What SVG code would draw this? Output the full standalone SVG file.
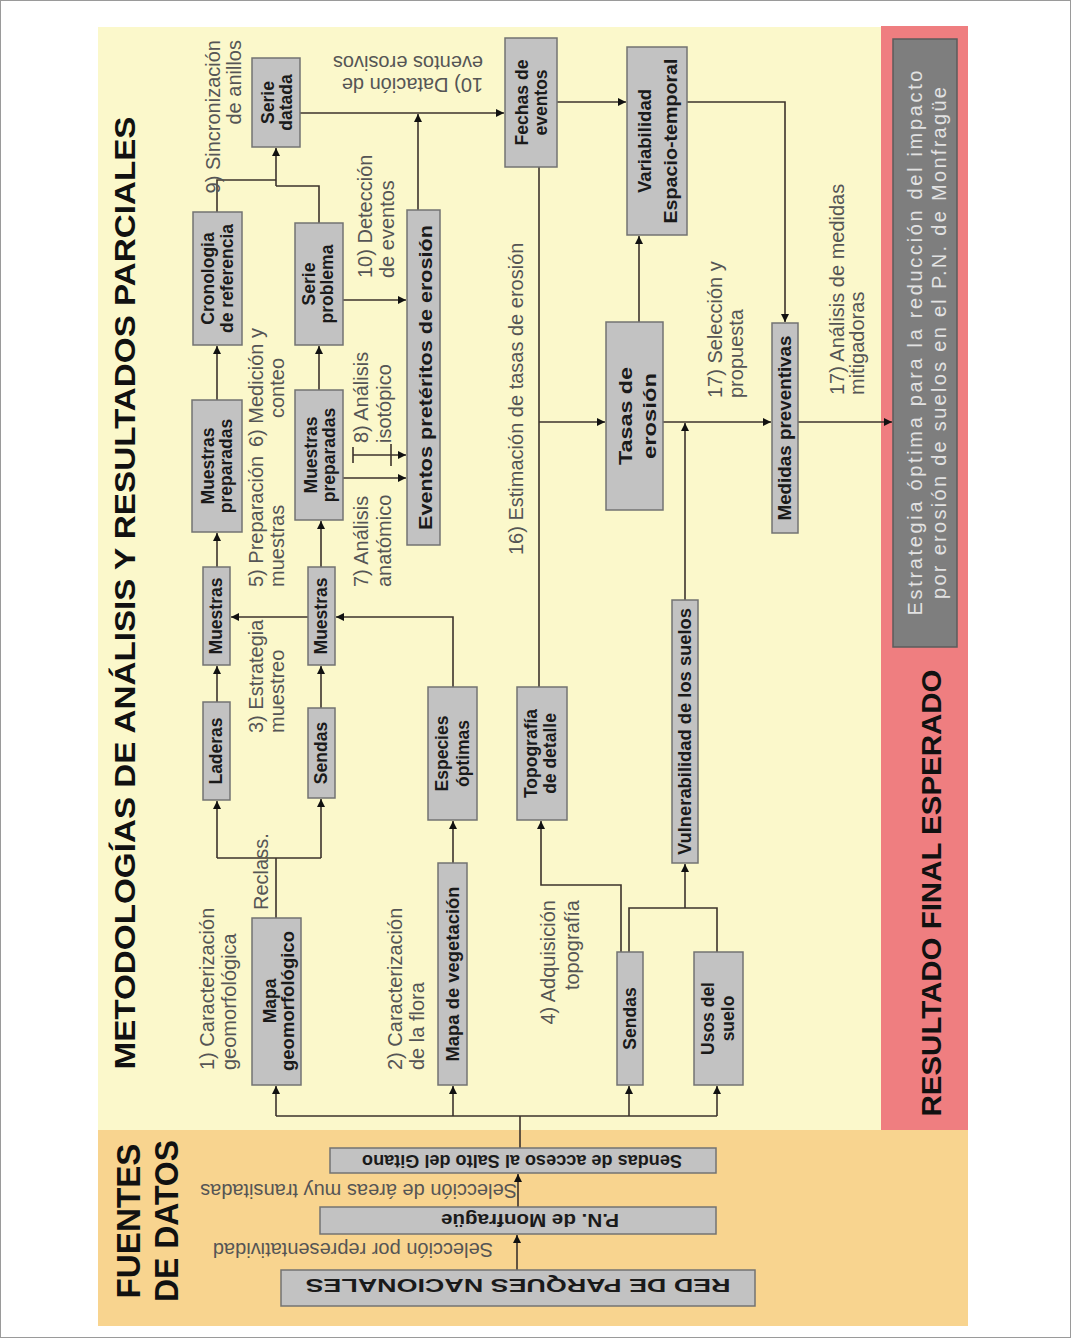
<svg xmlns="http://www.w3.org/2000/svg" width="1071" height="1338" viewBox="0 0 1071 1338">
<defs>
<marker id="ah" viewBox="0 0 10 10" refX="10" refY="5" markerWidth="9" markerHeight="8" orient="auto" markerUnits="userSpaceOnUse"><path d="M0,0 L10,5 L0,10 z" fill="#111"/></marker>
<style>
.bx{fill:#c2c2c2;stroke:#737373;stroke-width:1.5}
.bt{font-family:"Liberation Sans",Arial,sans-serif;font-weight:bold;font-size:17.5px;fill:#1a1a1a;text-anchor:middle}
.lb{font-family:"Liberation Sans",Arial,sans-serif;font-size:20px;fill:#555}
.le{font-family:"Liberation Sans",Arial,sans-serif;font-size:20px;fill:#555;text-anchor:end}
.hd{font-family:"Liberation Sans",Arial,sans-serif;font-weight:bold;fill:#111;text-anchor:middle}
.cn{fill:none;stroke:#3d332c;stroke-width:1.6}
.ar{fill:none;stroke:#3d332c;stroke-width:1.6;marker-end:url(#ah)}
</style>
</defs>
<rect x="0.5" y="0.5" width="1070" height="1337" fill="#ffffff" stroke="#9a9a9a" stroke-width="1"/>
<g id="panels">
<rect x="98" y="27" width="783" height="1103" fill="#FBF8CB"/>
<rect x="881" y="26" width="87" height="1104" fill="#EF7E80"/>
<rect x="98" y="1130" width="870" height="196" fill="#F8D48F"/>
</g>
<g id="titles">
<text class="hd" font-size="30" transform="translate(0,593) rotate(-90)" x="0" y="135" textLength="953" lengthAdjust="spacingAndGlyphs">METODOLOGÍAS DE ANÁLISIS Y RESULTADOS PARCIALES</text>
<text class="hd" font-size="28" transform="translate(0,893) rotate(-90)" x="0" y="941" textLength="447" lengthAdjust="spacingAndGlyphs">RESULTADO FINAL ESPERADO</text>
<text class="hd" font-size="34" transform="translate(0,1221) rotate(-90)" x="0" y="140" textLength="155" lengthAdjust="spacingAndGlyphs">FUENTES</text>
<text class="hd" font-size="34" transform="translate(0,1221) rotate(-90)" x="0" y="178" textLength="162" lengthAdjust="spacingAndGlyphs">DE DATOS</text>
</g>
<g id="connectors">
<path class="ar" d="M517,1270 V1235"/>
<path class="ar" d="M518,1207 V1174"/>
<path class="cn" d="M520,1148 V1116 M276,1116 H717"/>
<path class="ar" d="M276,1116 V1086"/>
<path class="ar" d="M453,1116 V1086"/>
<path class="ar" d="M629,1116 V1086"/>
<path class="ar" d="M717,1116 V1086"/>
<path class="cn" d="M276,918 V858 M217,858 H321"/>
<path class="ar" d="M217,858 V801"/>
<path class="ar" d="M321,858 V799"/>
<path class="ar" d="M217,702 V666"/>
<path class="ar" d="M217,567 V533"/>
<path class="ar" d="M217,400 V346"/>
<path class="ar" d="M321,708 V666"/>
<path class="ar" d="M321,567 V521"/>
<path class="ar" d="M319,390 V346"/>
<path class="cn" d="M217,212 V180 H276 M319,223 V186 H276"/>
<path class="ar" d="M276,186 V148"/>
<path class="ar" d="M343,300 H406"/>
<path class="ar" d="M353,455 H406"/>
<path class="cn" d="M353,447 V463 M391,444 V466"/>
<path class="ar" d="M343,478 H406"/>
<path class="ar" d="M300,113 H504"/>
<path class="ar" d="M418,210 V114"/>
<path class="ar" d="M557,102 H626"/>
<path class="ar" d="M687,102 H785 V322"/>
<path class="cn" d="M539,167 V687"/>
<path class="ar" d="M539,422 H605"/>
<path class="ar" d="M639,322 V236"/>
<path class="ar" d="M663,422 H771"/>
<path class="ar" d="M685,600 V423"/>
<path class="ar" d="M798,422 H892"/>
<path class="ar" d="M453,863 V821"/>
<path class="ar" d="M453,687 V617 H336"/>
<path class="ar" d="M308,617 H231"/>
<path class="ar" d="M621,952 V885 H541 V821"/>
<path class="cn" d="M629,952 V908 H717 V952"/>
<path class="ar" d="M685,908 V864"/>
</g>
<g id="labels">
<text class="lb" transform="translate(0,1070) rotate(-90)"><tspan x="0" y="214">1) Caracterización</tspan><tspan x="0" y="236">geomorfológica</tspan></text>
<text class="lb" transform="translate(0,910) rotate(-90)" x="0" y="268">Reclass.</text>
<text class="lb" transform="translate(0,1070) rotate(-90)"><tspan x="0" y="402">2) Caracterización</tspan><tspan x="0" y="424">de la flora</tspan></text>
<text class="lb" transform="translate(0,733) rotate(-90)"><tspan x="0" y="263">3) Estrategia</tspan><tspan x="0" y="284">muestreo</tspan></text>
<text class="lb" transform="translate(0,587) rotate(-90)"><tspan x="0" y="263">5) Preparación</tspan><tspan x="0" y="284">muestras</tspan></text>
<text class="lb" transform="translate(0,447) rotate(-90)" x="0" y="263">6) Medición y</text>
<text class="lb" transform="translate(0,418) rotate(-90)" x="0" y="284">conteo</text>
<text class="lb" transform="translate(0,587) rotate(-90)"><tspan x="0" y="368">7) Análisis</tspan><tspan x="0" y="391">anatómico</tspan></text>
<text class="lb" transform="translate(0,443) rotate(-90)"><tspan x="0" y="368">8) Análisis</tspan><tspan x="0" y="391">isotópico</tspan></text>
<text class="le" transform="translate(0,40) rotate(-90)"><tspan x="0" y="220">9) Sincronización</tspan><tspan x="0" y="241">de anillos</tspan></text>
<text class="lb" transform="translate(0,278) rotate(-90)"><tspan x="0" y="372">10) Detección</tspan><tspan x="0" y="394">de eventos</tspan></text>
<text class="lb" transform="translate(483,78) rotate(180)" x="0" y="0">10) Datación de</text>
<text class="lb" transform="translate(483,56) rotate(180)" x="0" y="0">eventos erosivos</text>
<text class="le" transform="translate(0,900) rotate(-90)"><tspan x="0" y="555">4) Adquisición</tspan><tspan x="0" y="579">topografía</tspan></text>
<text class="lb" transform="translate(0,555) rotate(-90)" x="0" y="523">16) Estimación de tasas de erosión</text>
<text class="lb" transform="translate(0,398) rotate(-90)"><tspan x="0" y="722">17) Selección y</tspan><tspan x="0" y="743">propuesta</tspan></text>
<text class="lb" transform="translate(0,395) rotate(-90)"><tspan x="0" y="844">17) Análisis de medidas</tspan><tspan x="0" y="864">mitigadoras</tspan></text>
<text class="lb" transform="translate(493,1243) rotate(180)" x="0" y="0">Selección por representatividad</text>
<text class="lb" transform="translate(517,1184) rotate(180)" x="0" y="0">Selección de áreas muy transitadas</text>
</g>
<g id="n_red"><rect class="bx" x="281" y="1270" width="474" height="36"/><text class="bt" font-size="26" transform="translate(518,1279) rotate(180)" x="0" y="0" textLength="425" lengthAdjust="spacingAndGlyphs">RED DE PARQUES NACIONALES</text></g>
<g id="n_pn"><rect class="bx" x="320" y="1207" width="396" height="27"/><text class="bt" font-size="16" transform="translate(530,1214) rotate(180)" x="0" y="0" textLength="178" lengthAdjust="spacingAndGlyphs">P.N. de Monfragüe</text></g>
<g id="n_sendas_acceso"><rect class="bx" x="330" y="1148" width="386" height="25"/><text class="bt" font-size="16" transform="translate(522,1155) rotate(180)" x="0" y="0" textLength="320" lengthAdjust="spacingAndGlyphs">Sendas de acceso al Salto del Gitano</text></g>
<g id="n_mapa_geo"><rect class="bx" x="252" y="918" width="49" height="167"/><text class="bt" transform="translate(0,1001) rotate(-90)"><tspan x="0" y="276">Mapa</tspan><tspan x="0" y="294" textLength="140" lengthAdjust="spacingAndGlyphs">geomorfológico</tspan></text></g>
<g id="n_mapa_veg"><rect class="bx" x="438" y="863" width="29" height="222"/><text class="bt" transform="translate(0,974) rotate(-90)" x="0" y="459" textLength="175" lengthAdjust="spacingAndGlyphs">Mapa de vegetación</text></g>
<g id="n_sendas_low"><rect class="bx" x="617" y="952" width="26" height="133"/><text class="bt" transform="translate(0,1018.5) rotate(-90)" x="0" y="636">Sendas</text></g>
<g id="n_usos"><rect class="bx" x="694" y="952" width="49" height="133"/><text class="bt" transform="translate(0,1018.5) rotate(-90)"><tspan x="0" y="714">Usos del</tspan><tspan x="0" y="734">suelo</tspan></text></g>
<g id="n_laderas"><rect class="bx" x="203" y="702" width="27" height="98"/><text class="bt" transform="translate(0,751) rotate(-90)" x="0" y="222">Laderas</text></g>
<g id="n_muestras1"><rect class="bx" x="203" y="567" width="27" height="98"/><text class="bt" transform="translate(0,616) rotate(-90)" x="0" y="222">Muestras</text></g>
<g id="n_mprep1"><rect class="bx" x="192" y="400" width="50" height="132"/><text class="bt" transform="translate(0,466) rotate(-90)"><tspan x="0" y="214">Muestras</tspan><tspan x="0" y="232">preparadas</tspan></text></g>
<g id="n_crono"><rect class="bx" x="193" y="212" width="49" height="133"/><text class="bt" transform="translate(0,278.5) rotate(-90)"><tspan x="0" y="214">Cronologia</tspan><tspan x="0" y="233">de referencia</tspan></text></g>
<g id="n_sendas1"><rect class="bx" x="308" y="708" width="27" height="90"/><text class="bt" transform="translate(0,753) rotate(-90)" x="0" y="327">Sendas</text></g>
<g id="n_muestras2"><rect class="bx" x="308" y="567" width="27" height="98"/><text class="bt" transform="translate(0,616) rotate(-90)" x="0" y="327">Muestras</text></g>
<g id="n_mprep2"><rect class="bx" x="295" y="390" width="48" height="130"/><text class="bt" transform="translate(0,455) rotate(-90)"><tspan x="0" y="317">Muestras</tspan><tspan x="0" y="335">preparadas</tspan></text></g>
<g id="n_serieprob"><rect class="bx" x="295" y="223" width="48" height="122"/><text class="bt" font-size="16" transform="translate(0,284) rotate(-90)"><tspan x="0" y="315">Serie</tspan><tspan x="0" y="333">problema</tspan></text></g>
<g id="n_seriedat"><rect class="bx" x="252" y="58" width="48" height="89"/><text class="bt" transform="translate(0,102.5) rotate(-90)"><tspan x="0" y="274">Serie</tspan><tspan x="0" y="292">datada</tspan></text></g>
<g id="n_eventos"><rect class="bx" x="407" y="210" width="33" height="335"/><text class="bt" font-size="23" transform="translate(0,377.5) rotate(-90)" x="0" y="432" textLength="305" lengthAdjust="spacingAndGlyphs">Eventos pretéritos de erosión</text></g>
<g id="n_fechas"><rect class="bx" x="505" y="38" width="52" height="129"/><text class="bt" transform="translate(0,102.5) rotate(-90)"><tspan x="0" y="528" textLength="86" lengthAdjust="spacingAndGlyphs">Fechas de</tspan><tspan x="0" y="547">eventos</tspan></text></g>
<g id="n_variab"><rect class="bx" x="627" y="47" width="60" height="188"/><text class="bt" font-size="18" transform="translate(0,141) rotate(-90)"><tspan x="0" y="651" textLength="104" lengthAdjust="spacingAndGlyphs">Variabilidad</tspan><tspan x="0" y="677" textLength="165" lengthAdjust="spacingAndGlyphs">Espacio-temporal</tspan></text></g>
<g id="n_tasas"><rect class="bx" x="606" y="322" width="57" height="188"/><text class="bt" font-size="23" transform="translate(0,416) rotate(-90)"><tspan x="0" y="632" textLength="98" lengthAdjust="spacingAndGlyphs">Tasas de</tspan><tspan x="0" y="656" textLength="86" lengthAdjust="spacingAndGlyphs">erosión</tspan></text></g>
<g id="n_especies"><rect class="bx" x="428" y="687" width="49" height="133"/><text class="bt" transform="translate(0,753.5) rotate(-90)"><tspan x="0" y="448">Especies</tspan><tspan x="0" y="469">óptimas</tspan></text></g>
<g id="n_topo"><rect class="bx" x="517" y="687" width="50" height="133"/><text class="bt" transform="translate(0,753.5) rotate(-90)"><tspan x="0" y="537">Topografía</tspan><tspan x="0" y="556">de detalle</tspan></text></g>
<g id="n_vuln"><rect class="bx" x="672" y="600" width="26" height="263"/><text class="bt" font-size="18" transform="translate(0,731.5) rotate(-90)" x="0" y="691" textLength="247" lengthAdjust="spacingAndGlyphs">Vulnerabilidad de los suelos</text></g>
<g id="n_medidas"><rect class="bx" x="772" y="323" width="26" height="210"/><text class="bt" font-size="18" transform="translate(0,428) rotate(-90)" x="0" y="791" textLength="185" lengthAdjust="spacingAndGlyphs">Medidas preventivas</text></g>
<g id="n_estrategia"><rect x="893" y="39" width="64" height="608" fill="#7e7e7e" stroke="#5c5c5c" stroke-width="1.5"/><text font-family="Liberation Sans, Arial, sans-serif" font-size="20" fill="#e2e2e2" text-anchor="middle" transform="translate(0,343) rotate(-90)"><tspan x="0" y="922" textLength="545" lengthAdjust="spacing">Estrategia óptima para la reducción del impacto</tspan><tspan x="0" y="946" textLength="512" lengthAdjust="spacing">por erosión de suelos en el P.N. de Monfragüe</tspan></text></g>
</svg>
